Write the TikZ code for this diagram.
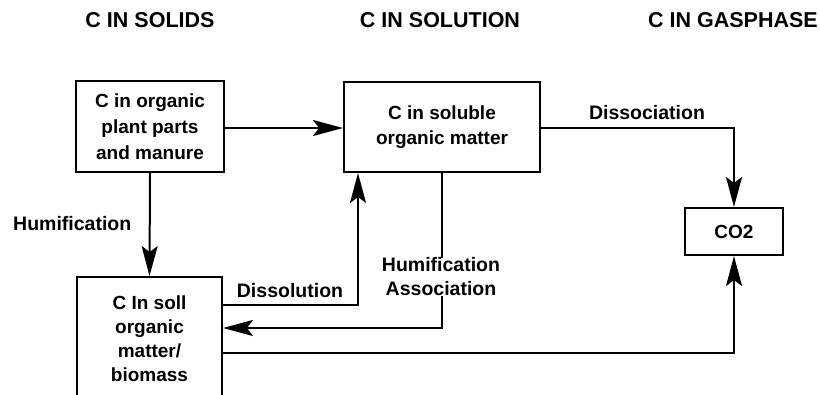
\documentclass[tikz,border=0pt]{standalone}
\usepackage{fontspec}
\setmainfont{Liberation Sans}
\usetikzlibrary{arrows.meta}
\tikzset{
  box/.style={draw,line width=2pt,inner sep=0pt,align=center,font=\bfseries\fontsize{19}{25}\selectfont},
  lbl/.style={inner sep=0pt,align=center,font=\bfseries\fontsize{19.5}{24}\selectfont},
  hdr/.style={inner sep=0pt,font=\bfseries\fontsize{21.5}{24}\selectfont},
  conn/.style={line width=2pt},
  bigtip/.tip={Stealth[length=30pt,width=16pt,inset=6pt]},
  arr/.style={line width=2pt,-bigtip}
}
\begin{document}
\begin{tikzpicture}[x=1pt,y=-1pt]
\clip (0,0) rectangle (820,394);
\fill[white] (0,0) rectangle (820,394);
% headers
\node[hdr] (h1) at (150,20.5) {C IN SOLIDS};
\node[hdr] (h2) at (440,20.5) {C IN SOLUTION};
\node[hdr] (h3) at (733,20.5) {C IN GASPHASE};
% boxes
\node[box,minimum width=148pt,minimum height=91pt,font=\bfseries\fontsize{19}{26}\selectfont] (plant) at (150,126.5) {C in organic\\plant parts\\and manure};
\node[box,minimum width=196pt,minimum height=90pt] (sol) at (442,127) {C in soluble\\organic matter};
\node[box,minimum width=98pt,minimum height=47pt] (co2) at (734,231.5) {CO2};
\node[box,minimum width=145pt,minimum height=123pt,font=\bfseries\fontsize{19}{24}\selectfont] (soil) at (149.5,338.5) {C In soll\\organic\\matter/\\biomass};
% labels
\node[lbl,anchor=west] (lhum) at (13,224) {Humification};
\node[lbl] (ldiss) at (290,291) {Dissolution};
\node[lbl] (lha) at (441,277) {Humification\\Association};
\node[lbl] (ldis) at (647,113) {Dissociation};
% connectors
\draw[arr] (plant.east |- 0,128) -- (sol.west |- 0,128);
\draw[arr] (plant.south) -- (soil.north);
\draw[arr] (soil.east |- 0,305) -| (sol.south -| 358,0);
\draw[conn] (sol.south -| 442,0) -- (lha.north -| 442,0);
\coordinate (hacorner) at (442,328);
\draw[arr] (lha.south -| 442,0) -- (hacorner) -- (soil.east |- hacorner);
\draw[arr] (soil.east |- 0,353) -| (co2.south);
\draw[arr] (sol.east |- 0,128) -| (co2.north);
\end{tikzpicture}
\end{document}
